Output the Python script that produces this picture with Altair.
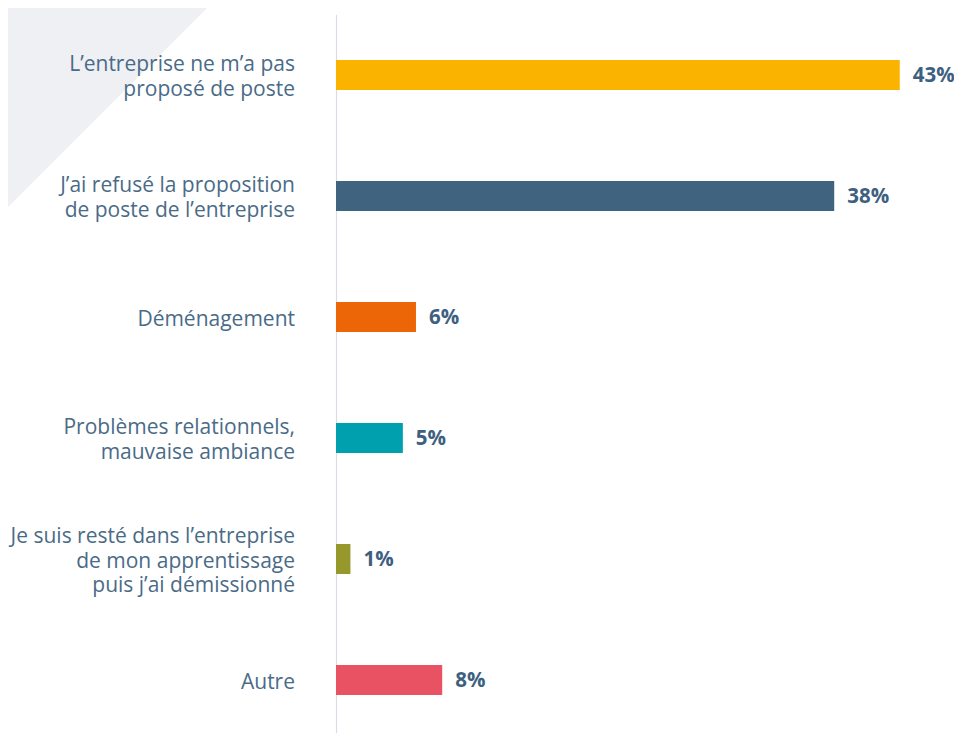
import altair as alt
import pandas as pd

categories = [
    "L’entreprise ne m’a pas|proposé de poste",
    "J’ai refusé la proposition|de poste de l’entreprise",
    "Déménagement",
    "Problèmes relationnels,|mauvaise ambiance",
    "Je suis resté dans l’entreprise|de mon apprentissage|puis j’ai démissionné",
    "Autre",
]
values = [43.0, 38.0, 6.1, 5.1, 1.1, 8.1]
value_labels = ["43%", "38%", "6%", "5%", "1%", "8%"]
colors = ["#fab400", "#406480", "#ec6608", "#00a0ae", "#96982c", "#e95262"]

df = pd.DataFrame({"cat": categories, "val": values, "lab": value_labels, "col": colors})

y_enc = alt.Y("cat:N", sort=categories, scale=alt.Scale(paddingInner=0, paddingOuter=0),
              axis=alt.Axis(title=None, ticks=False, labels=False, domain=True,
                            domainColor="#d9dbe6", domainWidth=1.2))
x_enc = alt.X("val:Q", scale=alt.Scale(domain=[0, 45]), axis=None)

bg = alt.Chart(pd.DataFrame({"a": [0]})).mark_point(
    shape="M-1,-1 L1,-1 L-1,1 Z", size=46225, filled=True, color="#eef0f4", opacity=1, strokeWidth=0
).encode(x=alt.value(-228.5), y=alt.value(93))

bars = alt.Chart(df).mark_bar(size=30).encode(
    y=y_enc, x=x_enc, color=alt.Color("col:N", scale=None)
)

cat_text = alt.Chart(df).mark_text(
    align="right", baseline="middle", lineBreak="|", lineHeight=24.5,
    dy=alt.expr("2.5 - (length(split(datum.cat, '|')) - 1) * 12.25"),
    font="Open Sans", fontSize=21, color="#4a6b87"
).encode(
    y=alt.Y("cat:N", sort=categories), x=alt.value(-41), text="cat:N"
)

texts = alt.Chart(df).mark_text(align="left", dx=13, dy=1, font="Open Sans", fontSize=20.5,
                                fontWeight="bold", color="#3e6080").encode(
    y=alt.Y("cat:N", sort=categories), x="val:Q", text="lab:N"
)

chart = alt.layer(bg, bars, cat_text, texts).properties(
    width=590, height=726,
    autosize=alt.AutoSizeParams(type="none"),
    padding={"left": 328, "top": 6.5, "right": 28, "bottom": 0},
).configure_view(stroke=None)

chart.save("out.html", embed_options={"renderer": "svg", "actions": False})
